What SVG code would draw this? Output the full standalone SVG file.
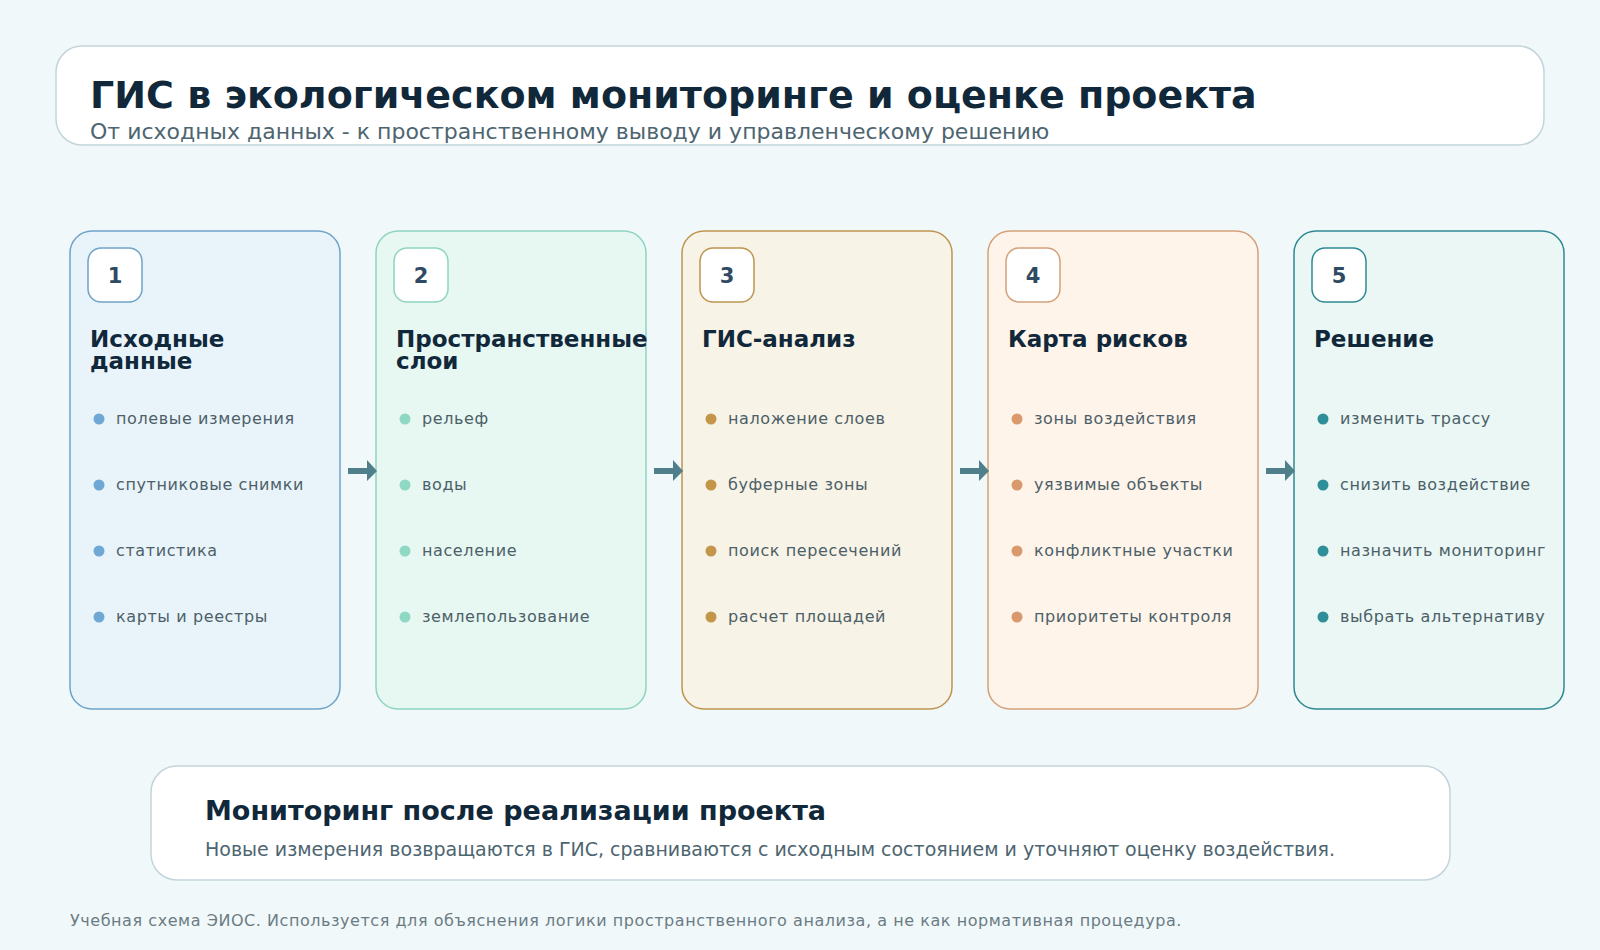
<svg xmlns="http://www.w3.org/2000/svg" width="1600" height="950" viewBox="0 0 1600 950">
  <defs>
    <style>
      text { font-family: "DejaVu Sans", "Noto Sans", sans-serif; }
      .panel { fill: #ffffff; stroke: #c2d5db; stroke-width: 1.5; }
      .h1 { font-size: 38px; font-weight: bold; fill: #10283a; }
      .sub { font-size: 22px; fill: #4d6570; }
      .card { stroke-width: 1.5; }
      .badge { fill: #ffffff; stroke-width: 1.5; }
      .num { font-size: 21px; font-weight: bold; fill: #2f4a63; text-anchor: middle; }
      .ctitle { font-size: 23px; font-weight: bold; fill: #10283a; }
      .item { font-size: 16px; fill: #4d5f68; letter-spacing: 0.6px; }
      .mtitle { font-size: 27px; font-weight: bold; fill: #10283a; }
      .mtext { font-size: 19px; fill: #4d6570; }
      .foot { font-size: 16px; fill: #6b7c84; letter-spacing: 0.55px; }
      .conn line { stroke: #4e7f8a; stroke-width: 6; }
      .conn path { fill: #4e7f8a; }
    </style>
  </defs>
  <rect x="0" y="0" width="1600" height="950" fill="#f1f8fa"/>

  <g id="header">
    <rect class="panel" x="56" y="46" width="1488" height="99" rx="26"/>
    <text class="h1" x="90" y="108">ГИС в экологическом мониторинге и оценке проекта</text>
    <text class="sub" x="90" y="139">От исходных данных - к пространственному выводу и управленческому решению</text>
  </g>

  <g id="step1">
    <rect class="card" x="70" y="231" width="270" height="478" rx="22" fill="#e9f4fa" stroke="#6fa3c7"/>
    <rect class="badge" x="88" y="248" width="54" height="54" rx="13" stroke="#6fa3c7"/>
    <text class="num" x="115" y="283">1</text>
    <text class="ctitle" x="90" y="347">Исходные</text>
    <text class="ctitle" x="90" y="369">данные</text>
    <g fill="#6fa8d4">
      <circle cx="99" cy="419" r="5.5"/><circle cx="99" cy="485" r="5.5"/><circle cx="99" cy="551" r="5.5"/><circle cx="99" cy="617" r="5.5"/>
    </g>
    <text class="item" x="116" y="424">полевые измерения</text>
    <text class="item" x="116" y="490">спутниковые снимки</text>
    <text class="item" x="116" y="556">статистика</text>
    <text class="item" x="116" y="622">карты и реестры</text>
  </g>

  <g id="step2">
    <rect class="card" x="376" y="231" width="270" height="478" rx="22" fill="#e7f7f2" stroke="#8fd4c1"/>
    <rect class="badge" x="394" y="248" width="54" height="54" rx="13" stroke="#8fd4c1"/>
    <text class="num" x="421" y="283">2</text>
    <text class="ctitle" x="396" y="347">Пространственные</text>
    <text class="ctitle" x="396" y="369">слои</text>
    <g fill="#8ed8c4">
      <circle cx="405" cy="419" r="5.5"/><circle cx="405" cy="485" r="5.5"/><circle cx="405" cy="551" r="5.5"/><circle cx="405" cy="617" r="5.5"/>
    </g>
    <text class="item" x="422" y="424">рельеф</text>
    <text class="item" x="422" y="490">воды</text>
    <text class="item" x="422" y="556">население</text>
    <text class="item" x="422" y="622">землепользование</text>
  </g>

  <g id="step3">
    <rect class="card" x="682" y="231" width="270" height="478" rx="22" fill="#f7f3e6" stroke="#bf9550"/>
    <rect class="badge" x="700" y="248" width="54" height="54" rx="13" stroke="#bf9550"/>
    <text class="num" x="727" y="283">3</text>
    <text class="ctitle" x="702" y="347">ГИС-анализ</text>
    <g fill="#c4964a">
      <circle cx="711" cy="419" r="5.5"/><circle cx="711" cy="485" r="5.5"/><circle cx="711" cy="551" r="5.5"/><circle cx="711" cy="617" r="5.5"/>
    </g>
    <text class="item" x="728" y="424">наложение слоев</text>
    <text class="item" x="728" y="490">буферные зоны</text>
    <text class="item" x="728" y="556">поиск пересечений</text>
    <text class="item" x="728" y="622">расчет площадей</text>
  </g>

  <g id="step4">
    <rect class="card" x="988" y="231" width="270" height="478" rx="22" fill="#fef4ea" stroke="#d4a07a"/>
    <rect class="badge" x="1006" y="248" width="54" height="54" rx="13" stroke="#d4a07a"/>
    <text class="num" x="1033" y="283">4</text>
    <text class="ctitle" x="1008" y="347">Карта рисков</text>
    <g fill="#d9996c">
      <circle cx="1017" cy="419" r="5.5"/><circle cx="1017" cy="485" r="5.5"/><circle cx="1017" cy="551" r="5.5"/><circle cx="1017" cy="617" r="5.5"/>
    </g>
    <text class="item" x="1034" y="424">зоны воздействия</text>
    <text class="item" x="1034" y="490">уязвимые объекты</text>
    <text class="item" x="1034" y="556">конфликтные участки</text>
    <text class="item" x="1034" y="622">приоритеты контроля</text>
  </g>

  <g id="step5">
    <rect class="card" x="1294" y="231" width="270" height="478" rx="22" fill="#eaf7f4" stroke="#2e8a92"/>
    <rect class="badge" x="1312" y="248" width="54" height="54" rx="13" stroke="#2e8a92"/>
    <text class="num" x="1339" y="283">5</text>
    <text class="ctitle" x="1314" y="347">Решение</text>
    <g fill="#2f8f98">
      <circle cx="1323" cy="419" r="5.5"/><circle cx="1323" cy="485" r="5.5"/><circle cx="1323" cy="551" r="5.5"/><circle cx="1323" cy="617" r="5.5"/>
    </g>
    <text class="item" x="1340" y="424">изменить трассу</text>
    <text class="item" x="1340" y="490">снизить воздействие</text>
    <text class="item" x="1340" y="556">назначить мониторинг</text>
    <text class="item" x="1340" y="622">выбрать альтернативу</text>
  </g>

  <g id="connectors" class="conn">
    <line x1="348" y1="471" x2="368" y2="471"/><path d="M367,460 L377,471 L367,481 Z"/>
    <line x1="654" y1="471" x2="674" y2="471"/><path d="M673,460 L683,471 L673,481 Z"/>
    <line x1="960" y1="471" x2="980" y2="471"/><path d="M979,460 L989,471 L979,481 Z"/>
    <line x1="1266" y1="471" x2="1286" y2="471"/><path d="M1285,460 L1295,471 L1285,481 Z"/>
  </g>

  <g id="monitoring">
    <rect class="panel" x="151" y="766" width="1299" height="114" rx="26"/>
    <text class="mtitle" x="205" y="820">Мониторинг после реализации проекта</text>
    <text class="mtext" x="205" y="856">Новые измерения возвращаются в ГИС, сравниваются с исходным состоянием и уточняют оценку воздействия.</text>
  </g>

  <text class="foot" x="70" y="926">Учебная схема ЭИОС. Используется для объяснения логики пространственного анализа, а не как нормативная процедура.</text>
</svg>
